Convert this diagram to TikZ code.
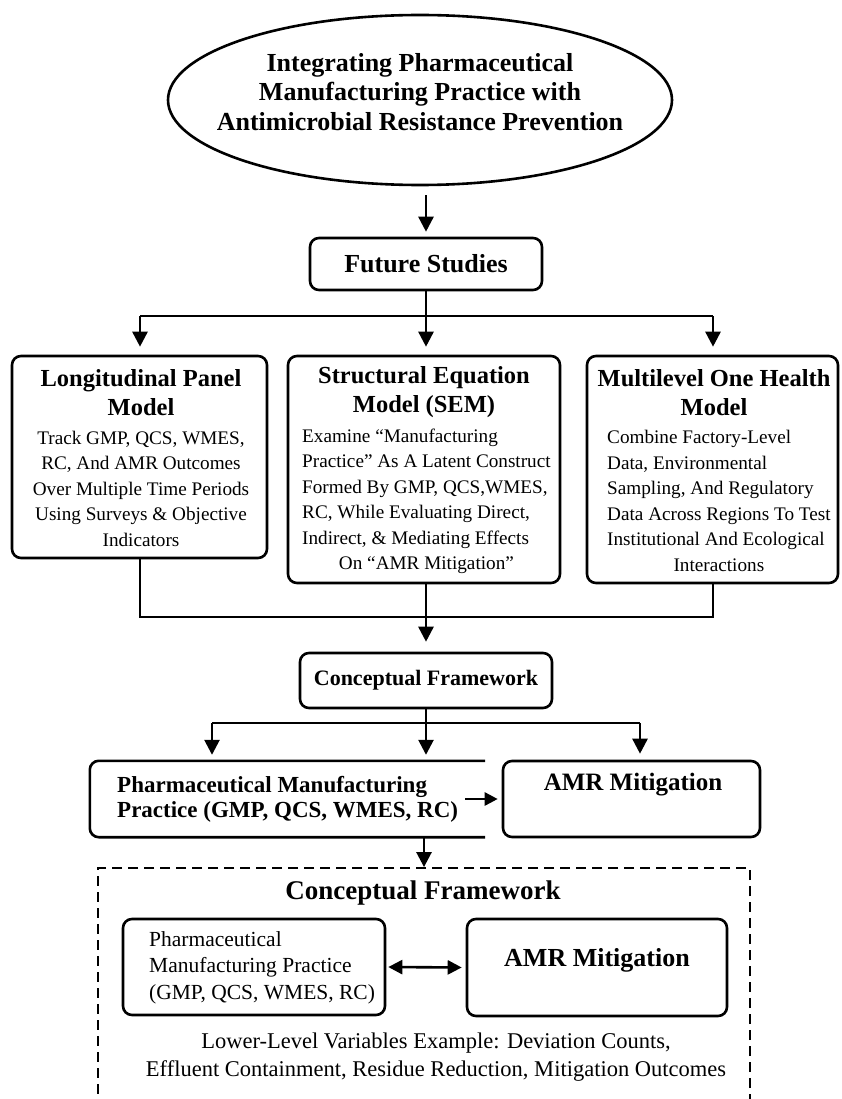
\documentclass[tikz,border=0pt]{standalone}
\usepackage{fontspec}
\setmainfont{Liberation Serif}
\usetikzlibrary{arrows.meta,shapes.geometric}
\newcommand{\setfs}[2]{\fontsize{#1}{#2}\selectfont}
\begin{document}
\begin{tikzpicture}[x=1pt,y=-1pt,
  ln/.style={line width=2.6pt},
  arr/.style={line width=2.6pt,-{Triangle[width=15pt,length=15pt]}},
  sarr/.style={line width=2.6pt,-{Triangle[width=13pt,length=13pt]}},
  dbl/.style={line width=2.6pt,{Triangle[width=14pt,length=14pt]}-{Triangle[width=14pt,length=14pt]}},
  rbx/.style={draw,line width=2.6pt,rounded corners=9pt,inner sep=0pt},
  txt/.style={inner sep=0pt,align=center},
  ttl/.style={txt,font=\setfs{24.5}{29}\bfseries},
  body/.style={inner sep=0pt,font=\setfs{19.2}{25.5}},
]
\useasboundingbox (0,0) rectangle (841,1099);

% title ellipse
\node[ellipse,draw,line width=2.6pt,minimum width=504pt,minimum height=170pt,inner sep=0pt] (ell) at (420,100) {};
\node[txt,font=\setfs{26}{29.5}\bfseries] (elltxt) at (420,92) {Integrating Pharmaceutical\\Manufacturing Practice with\\Antimicrobial Resistance Prevention};

% future studies
\node[rbx,minimum width=232pt,minimum height=52pt,font=\setfs{26}{28}\bfseries] (fut) at (426,264) {Future Studies};
\draw[arr,shorten <=9pt,shorten >=5pt] (fut.north |- ell.south) -- (fut.north);

% three model boxes
\node[rbx,minimum width=255pt,minimum height=202pt] (lbox) at (139.5,457) {};
\node[rbx,minimum width=272pt,minimum height=227pt] (mbox) at (424,469.5) {};
\node[rbx,minimum width=251pt,minimum height=227pt] (rbox) at (712.5,469.5) {};

\node[ttl] (lt) at (141,392.5) {Longitudinal Panel\\Model};
\node[body,align=center] (lb) at (141,488.5) {Track GMP, QCS, WMES,\\RC, And AMR Outcomes\\Over Multiple Time Periods\\Using Surveys \& Objective\\Indicators};

\node[ttl] (mt) at (424,392.5) {Structural Equation\\Model (SEM)};
\node[body,anchor=west] (mb) at (302,501) {\begin{tabular}{@{}l@{}}Examine ``Manufacturing\\Practice'' As A Latent Construct\\Formed By GMP, QCS,WMES,\\RC, While Evaluating Direct,\\Indirect, \& Mediating Effects\\\multicolumn{1}{@{}c@{}}{On ``AMR Mitigation''}\end{tabular}};

\node[ttl] (rt) at (714,392.5) {Multilevel One Health\\Model};
\node[body,anchor=west] (rb) at (607,502.5) {\begin{tabular}{@{}l@{}}Combine Factory-Level\\Data, Environmental\\Sampling, And Regulatory\\Data Across Regions To Test\\Institutional And Ecological\\\multicolumn{1}{@{}c@{}}{Interactions}\end{tabular}};

% branch from future studies
\coordinate (b0) at (426,316);
\coordinate (bL) at (140,316);
\coordinate (bR) at (713,316);
\draw[ln] (fut.south) -- (b0);
\draw[ln] (bL) -- (bR);
\draw[arr,shorten >=8pt] (bL) -- (bL |- lbox.north);
\draw[arr,shorten >=8pt] (b0) -- (b0 |- mbox.north);
\draw[arr,shorten >=8pt] (bR) -- (bR |- rbox.north);

% conceptual framework
\node[rbx,minimum width=252pt,minimum height=55pt,font=\setfs{22}{24}\bfseries] (cf) at (426,680.5) {Conceptual Framework};
\coordinate (j0) at (426,617);
\draw[ln] (lbox.south -| bL) -- (bL |- j0) -- (bR |- j0) -- (rbox.south -| bR);
\draw[arr,shorten >=10pt] (mbox.south -| cf.north) -- (cf.north);

% second level
\node[inner sep=0pt,minimum width=395pt,minimum height=76pt] (pmp) at (287.5,799) {};
\draw[ln,rounded corners=9pt] (pmp.north east) -- (pmp.north west) -- (pmp.south west) -- (pmp.south east);
\node[anchor=west,inner sep=0pt,align=left,font=\setfs{23}{25.5}\bfseries] (pmptxt) at (117,799.5) {Pharmaceutical Manufacturing\\Practice (GMP, QCS, WMES, RC)};
\node[rbx,minimum width=257pt,minimum height=76pt] (amr) at (631.5,799) {};
\node[txt,font=\setfs{25}{27}\bfseries] (amrtxt) at (633,785) {AMR Mitigation};

\coordinate (k0) at (426,723);
\coordinate (kL) at (212,723);
\coordinate (kR) at (640,723);
\draw[ln] (cf.south) -- (k0);
\draw[ln] (kL) -- (kR);
\draw[arr,shorten >=6pt] (kL) -- (kL |- pmp.north);
\draw[arr,shorten >=6pt] (k0) -- (k0 |- pmp.north);
\draw[arr,shorten >=6pt] (kR) -- (kR |- amr.north);

\coordinate (pa) at (465,799);
\draw[sarr,shorten >=4pt] (pa) -- (amr.west);

% dashed frame
\node[draw,line width=1.8pt,dash pattern=on 10pt off 6pt,minimum width=652pt,minimum height=240pt,inner sep=0pt] (frame) at (424,988) {};
\draw[arr] (pmp.south -| frame.north) -- (frame.north);

\node[txt,font=\setfs{27}{30}\bfseries] (ict) at (423,893) {Conceptual Framework};
\node[rbx,minimum width=262pt,minimum height=96pt] (ipmp) at (254,967) {};
\node[anchor=west,inner sep=0pt,align=left,font=\setfs{21.5}{26.5}] (ipmptxt) at (149,967.5) {Pharmaceutical\\Manufacturing Practice\\(GMP, QCS, WMES, RC)};
\node[rbx,minimum width=260pt,minimum height=97pt] (iamr) at (597,967.5) {};
\node[txt,font=\setfs{26}{28}\bfseries] (iamrtxt) at (597,960) {AMR Mitigation};
\draw[dbl,shorten <=2pt,shorten >=4pt] (ipmp.east) -- (iamr.west);

\node[txt,font=\setfs{22.5}{28.5}] (low) at (436,1057) {Lower-Level Variables Example: Deviation Counts,\\Effluent Containment, Residue Reduction, Mitigation Outcomes};
\end{tikzpicture}
\end{document}
